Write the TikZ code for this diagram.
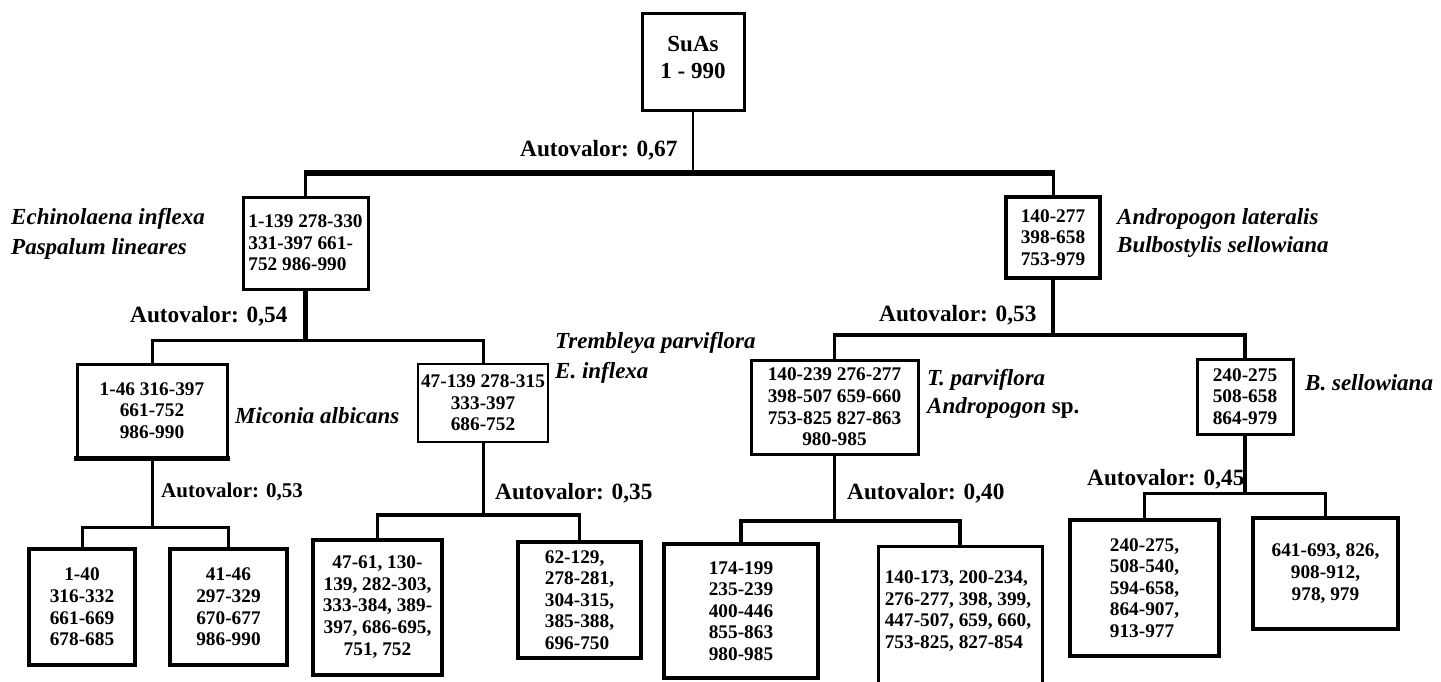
\documentclass[tikz,border=0pt]{standalone}
\usepackage{fontspec}
\setmainfont{Liberation Serif}
\begin{document}
\begin{tikzpicture}[x=1pt,y=-1pt,
  box/.style={draw, line width=3pt, inner sep=0pt, align=center,
    font=\fontsize{19.3}{21.6}\selectfont\bfseries},
  boxl/.style={box, align=left},
  nums/.style={inner sep=0pt, font=\fontsize{19.3}{21.6}\selectfont\bfseries},
  ev/.style={anchor=west, inner sep=0pt, font=\fontsize{23.3}{26}\selectfont\bfseries},
  sp/.style={anchor=west, inner sep=0pt, align=left, font=\fontsize{23}{29.5}\selectfont\bfseries\itshape},
  ln/.style={line width=3pt},
  thk/.style={line width=5pt}]
\useasboundingbox (0,0) rectangle (1441,682);
\clip (0,0) rectangle (1441,682);

% ---------- boxes ----------
\node[box, minimum width=102pt, minimum height=97pt] (root) at (693,62.5) {};
\node[inner sep=0pt, align=center, font=\fontsize{23}{27}\selectfont\bfseries] (roottxt) at (693,57) {SuAs\\1 - 990};

\node[boxl, minimum width=125pt, minimum height=92pt] (L1) at (305.5,243) {1-139 278-330\\331-397 661-\\752 986-990};
\node[box, line width=3.5pt, minimum width=94pt, minimum height=81pt] (R1) at (1053,237.5) {140-277\\398-658\\753-979};

\node[box, minimum width=150pt, minimum height=93pt] (L2a) at (152,410.5) {1-46 316-397\\661-752\\986-990};
\node[box, line width=2.6pt, minimum width=130pt, minimum height=78pt] (L2b) at (483,403) {47-139 278-315\\333-397\\686-752};
\node[box, minimum width=167pt, minimum height=94pt] (R2a) at (834.5,407) {140-239 276-277\\398-507 659-660\\753-825 827-863\\980-985};
\node[box, minimum width=96pt, minimum height=75pt] (R2b) at (1245,396.5) {240-275\\508-658\\864-979};

\node[box, line width=4pt, minimum width=106pt, minimum height=116pt] (L3a) at (82,607) {1-40\\316-332\\661-669\\678-685};
\node[box, line width=3.5pt, minimum width=117pt, minimum height=116pt] (L3b) at (228.5,607) {41-46\\297-329\\670-677\\986-990};
\node[box, line width=4pt, minimum width=129pt, minimum height=135pt] (L3c) at (377.5,607) {47-61, 130-\\139, 282-303,\\333-384, 389-\\397, 686-695,\\751, 752};
\node[boxl, line width=4pt, minimum width=123pt, minimum height=116pt] (L3d) at (579.5,600) {62-129,\\278-281,\\304-315,\\385-388,\\696-750};

\node[boxl, line width=4pt, minimum width=154pt, minimum height=134pt] (R3a) at (741,611) {174-199\\235-239\\400-446\\855-863\\980-985};
\node[box, minimum width=164pt, minimum height=154pt] (R3b) at (960,623) {};
\node[nums, align=left] (R3btxt) at (958,611) {140-173, 200-234,\\276-277, 398, 399,\\447-507, 659, 660,\\753-825, 827-854};
\node[boxl, line width=4.5pt, minimum width=149pt, minimum height=136pt] (R3c) at (1144.5,588) {240-275,\\508-540,\\594-658,\\864-907,\\913-977};
\node[box, line width=3.5pt, minimum width=145pt, minimum height=111pt] (R3d) at (1325.5,573.5) {641-693, 826,\\908-912,\\978, 979};

% extra thick bottom edge of L2a
\draw[line width=5pt] ([xshift=-1.5pt]L2a.south west) -- ([xshift=1.5pt]L2a.south east);

% ---------- connector levels ----------
\coordinate (y0) at (0,173);
\coordinate (y1) at (0,340);
\coordinate (y2) at (0,335);
\coordinate (y3) at (0,527);
\coordinate (y4) at (0,515);
\coordinate (y5) at (0,521);
\coordinate (y6) at (0,493);

\draw[line width=2.5pt] (root.south) -- (root.south |- y0);
\draw[line width=5.5pt] ([xshift=-1.5pt]L1.north |- y0) -- ([xshift=1.5pt]R1.north |- y0);
\draw[ln] (L1.north) -- (L1.north |- y0);
\draw[ln] (R1.north) -- (R1.north |- y0);

\draw[thk] (L1.south) -- (L1.south |- y1);
\draw[ln] (L2a.north) |- (L2b.north |- y1) -- (L2b.north);

\draw[line width=3.5pt] (R1.south) -- (R1.south |- y2);
\draw[line width=3.5pt] (R2a.north) |- (R2b.north |- y2) -- (R2b.north);

\draw[ln] (L2a.south) -- (L2a.south |- y3);
\draw[ln] (L3a.north) |- (L3b.north |- y3) -- (L3b.north);

\draw[ln] (L2b.south) -- (L2b.south |- y4);
\draw[line width=3.5pt] (L3c.north) |- (L3d.north |- y4) -- (L3d.north);

\draw[ln] (R2a.south) -- (R2a.south |- y5);
\draw[line width=4.5pt] (R3a.north) |- (R3b.north |- y5) -- (R3b.north);

\draw[line width=3.5pt] (R2b.south) -- (R2b.south |- y6);
\draw[ln] (R3c.north) |- (R3d.north |- y6) -- (R3d.north);

% ---------- eigenvalue labels ----------
\node[ev] (ev0) at (520,150) {Autovalor: 0,67};
\node[ev] (ev1) at (130,316) {Autovalor: 0,54};
\node[ev] (ev2) at (879,315) {Autovalor: 0,53};
\node[ev, font=\fontsize{21}{24}\selectfont\bfseries] (ev3) at (161,492) {Autovalor: 0,53};
\node[ev] (ev4) at (495,493) {Autovalor: 0,35};
\node[ev] (ev5) at (847,493) {Autovalor: 0,40};
\node[ev] (ev6) at (1087,479) {Autovalor: 0,45};

% ---------- species labels ----------
\node[sp] (spL1) at (11,234) {Echinolaena inflexa\\Paspalum lineares};
\node[sp, font=\fontsize{23}{28}\selectfont\bfseries\itshape] (spR1) at (1117,233) {Andropogon lateralis\\Bulbostylis sellowiana};
\node[sp] (spL2a) at (235,416) {Miconia albicans};
\node[sp] (spL2b) at (555,358) {Trembleya parviflora\\E. inflexa};
\node[sp, font=\fontsize{23}{28}\selectfont\bfseries\itshape] (spR2a) at (927,394) {T. parviflora\\Andropogon {\upshape sp.}};
\node[sp] (spR2b) at (1305,383) {B. sellowiana};
\end{tikzpicture}
\end{document}
